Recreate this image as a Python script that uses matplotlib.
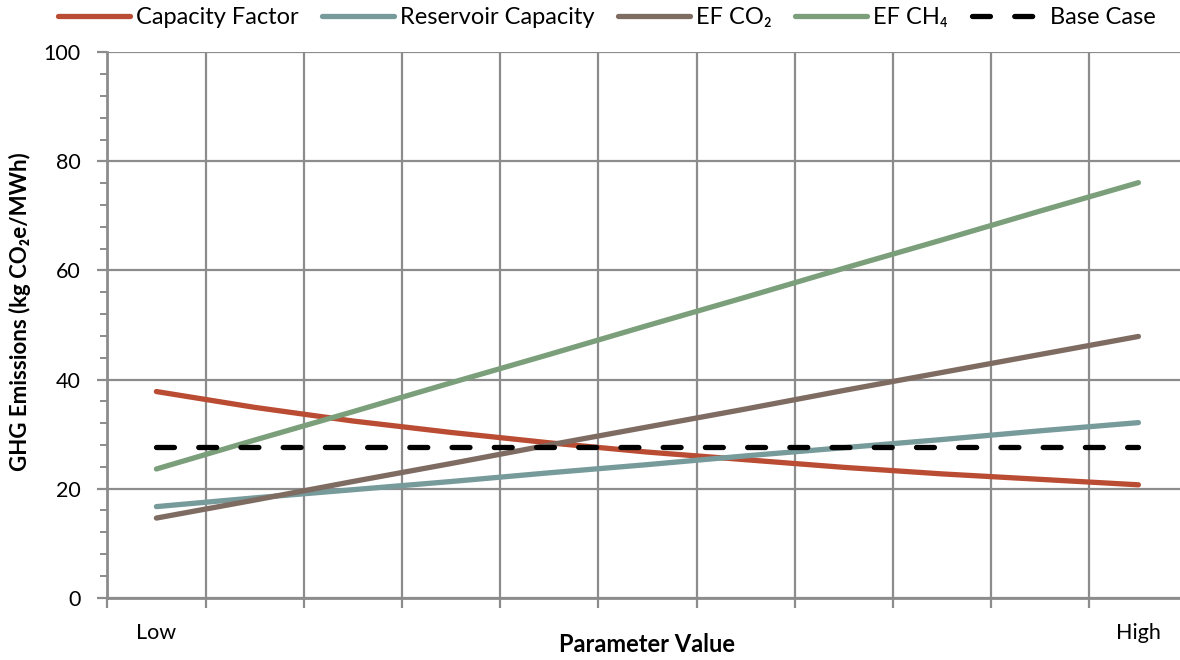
import matplotlib
matplotlib.use("Agg")
import matplotlib.pyplot as plt
from matplotlib.ticker import MultipleLocator

plt.rcParams["font.family"] = ["Lato", "DejaVu Sans"]

# ── Data ─────────────────────────────────────────────────────────────────────
positions = list(range(11))
tick_labels = ["Low", "", "", "", "", "", "", "", "", "", "High"]

capacity_factor = [37.8, 34.9, 32.4, 30.3, 28.4, 26.7, 25.3, 23.9, 22.7, 21.7, 20.7]
reservoir_capacity = [16.7, 18.3, 19.8, 21.3, 22.9, 24.4, 26.0, 27.5, 29.0, 30.6, 32.1]
ef_co2 = [14.6, 17.9, 21.3, 24.6, 28.0, 31.3, 34.6, 38.0, 41.3, 44.6, 47.9]
ef_ch4 = [23.6, 28.9, 34.1, 39.4, 44.6, 49.9, 55.1, 60.4, 65.6, 70.9, 76.1]
base_case = [27.7] * 11

series = [
    ("Capacity Factor", capacity_factor, "#BA4C33"),
    ("Reservoir Capacity", reservoir_capacity, "#779A9B"),
    ("EF CO\u2082", ef_co2, "#7E6B62"),
    ("EF CH\u2084", ef_ch4, "#7B9F7A"),
]

GRID = "#8C8C8C"

# ── Plot ─────────────────────────────────────────────────────────────────────
fig = plt.figure(figsize=(11.8, 6.6), dpi=100)
ax = fig.add_axes([107.3 / 1180, 1 - 597.7 / 660, 1080.2 / 1180, 545.4 / 660])

for label, vals, color in series:
    ax.plot(positions, vals, color=color, lw=3.8, solid_capstyle="round",
            label=label)
ax.plot(positions, base_case, color="black", lw=3.8, dashes=(3.4, 4.6),
        dash_capstyle="round", label="Base Case")

ax.set_xlim(-0.5, 10.5)
ax.set_ylim(0, 100)

ax.set_xticks([p - 0.5 for p in positions] + [10.5])
ax.set_xticklabels([])
ax.set_xticks(positions, minor=True)
ax.set_xticklabels(tick_labels, minor=True, fontsize=15.5)
ax.tick_params(axis="x", which="minor", length=0, pad=18)
ax.tick_params(axis="x", which="major", length=7, width=1.6, color=GRID)

ax.yaxis.set_major_locator(MultipleLocator(20))
ax.yaxis.set_minor_locator(MultipleLocator(4))
ax.tick_params(axis="y", which="major", length=7, width=1.6, color=GRID,
               labelsize=15.5, pad=12)
ax.tick_params(axis="y", which="minor", length=5, width=1.4, color=GRID)

ax.grid(True, which="major", color=GRID, lw=1.6)
ax.set_axisbelow(True)
for side in ["top", "right"]:
    ax.spines[side].set_visible(False)
for side in ["left", "bottom"]:
    ax.spines[side].set_color(GRID)
    ax.spines[side].set_linewidth(2)

ax.set_ylabel("GHG Emissions (kg CO\u2082e/MWh)", fontsize=16,
              fontweight="bold", va="center")
ax.yaxis.set_label_coords(-(107.3 - 20) / 1080.2, (597.7 - 312) / 545.4)
ax.set_xlabel("Parameter Value", fontsize=17, fontweight="bold")
ax.xaxis.set_label_coords(0.5, -(645 - 597.7) / 545.4)
ax.xaxis.label.set_va("center")

fig.legend(loc="upper left", bbox_to_anchor=(58 / 1180, 1 - 7 / 660), ncol=5,
           frameon=False, fontsize=17, handlelength=3.05, handletextpad=0.25,
           columnspacing=1.0, borderpad=0, borderaxespad=0)

plt.savefig("out.png", dpi=100)
